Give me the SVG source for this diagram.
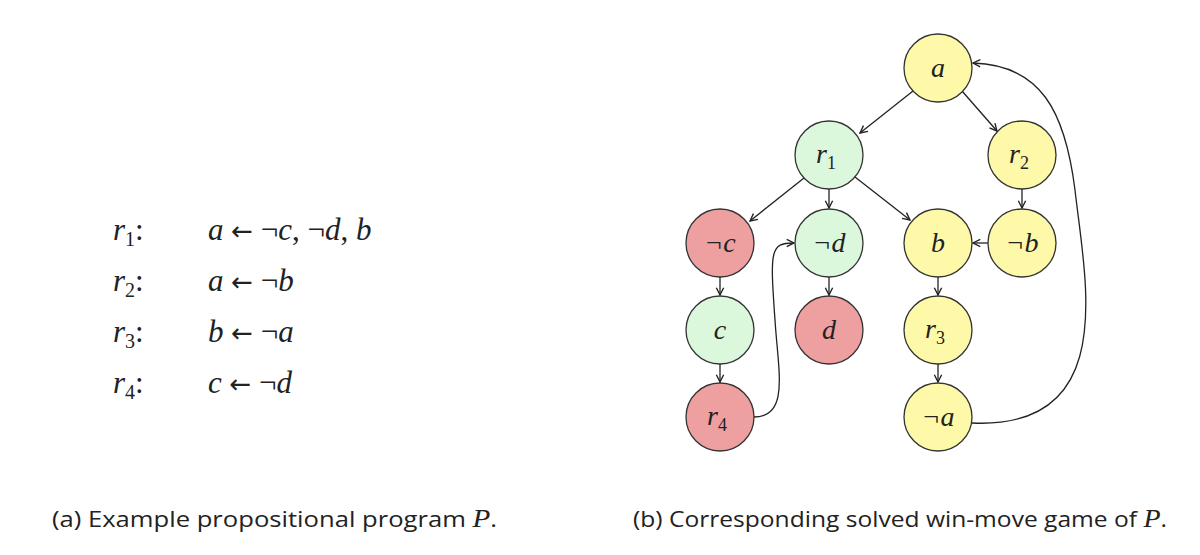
<svg xmlns="http://www.w3.org/2000/svg" width="1200" height="555" viewBox="0 0 1200 555">
<defs>
<marker id="ar" viewBox="0 0 10 10" refX="9" refY="5" markerWidth="7" markerHeight="7" orient="auto"><path d="M1,1 L9,5 L1,9" fill="none" stroke="#222" stroke-width="1.5"/></marker>
<style>
.n{stroke:#333;stroke-width:1.3}
.y{fill:#fdf9a8}.g{fill:#dcf8dc}.r{fill:#ee9f9f}
.t{font-family:"Liberation Serif",serif;font-style:italic;font-size:28px;text-anchor:middle;fill:#222}
.s{font-size:18px;font-style:normal}
.e{stroke:#222;stroke-width:1.3;fill:none;marker-end:url(#ar)}
.m{font-family:"Liberation Serif",serif;font-size:31px;fill:#222}
.ar{font-family:"DejaVu Sans",sans-serif;font-size:26px}
.cap{font-family:"Open Sans","Liberation Sans",sans-serif;font-size:22px;fill:#222}
</style>
</defs>
<g id="program">
<text class="m" x="113" y="240"><tspan font-style="italic">r</tspan><tspan font-size="20" dy="6">1</tspan><tspan dy="-6">:</tspan></text>
<text class="m" x="208" y="240"><tspan font-style="italic">a</tspan> <tspan class="ar">←</tspan> ¬<tspan font-style="italic">c</tspan>, ¬<tspan font-style="italic">d</tspan>, <tspan font-style="italic">b</tspan></text>
<text class="m" x="113" y="291"><tspan font-style="italic">r</tspan><tspan font-size="20" dy="6">2</tspan><tspan dy="-6">:</tspan></text>
<text class="m" x="208" y="291"><tspan font-style="italic">a</tspan> <tspan class="ar">←</tspan> ¬<tspan font-style="italic">b</tspan></text>
<text class="m" x="113" y="342"><tspan font-style="italic">r</tspan><tspan font-size="20" dy="6">3</tspan><tspan dy="-6">:</tspan></text>
<text class="m" x="208" y="342"><tspan font-style="italic">b</tspan> <tspan class="ar">←</tspan> ¬<tspan font-style="italic">a</tspan></text>
<text class="m" x="113" y="393"><tspan font-style="italic">r</tspan><tspan font-size="20" dy="6">4</tspan><tspan dy="-6">:</tspan></text>
<text class="m" x="208" y="393"><tspan font-style="italic">c</tspan> <tspan class="ar">←</tspan> ¬<tspan font-style="italic">d</tspan></text>
</g>
<g id="connectors">
<line class="e" x1="913" y1="91" x2="860" y2="133"/>
<line class="e" x1="962" y1="91" x2="997" y2="131"/>
<line class="e" x1="804" y1="178" x2="750" y2="221"/>
<line class="e" x1="829" y1="189" x2="829" y2="208"/>
<line class="e" x1="855" y1="177" x2="910" y2="220"/>
<line class="e" x1="1022" y1="189" x2="1022" y2="208"/>
<line class="e" x1="988" y1="243" x2="973" y2="243"/>
<line class="e" x1="720" y1="277" x2="720" y2="295"/>
<line class="e" x1="829" y1="277" x2="829" y2="295"/>
<line class="e" x1="938" y1="277" x2="938" y2="295"/>
<line class="e" x1="720" y1="364" x2="720" y2="382"/>
<line class="e" x1="938" y1="364" x2="938" y2="382"/>
<path class="e" d="M754,417 C790,417 778,370 775,320 C770,250 770,243 794,243"/>
<path class="e" d="M972,423 C1120,430 1085,280 1075,190 C1065,110 1040,65 973,63"/>
</g>
<g id="a"><circle class="n y" cx="938" cy="68" r="34"/><text class="t" x="938" y="77">a</text></g>
<g id="r1"><circle class="n g" cx="829" cy="155" r="34"/><text class="t" x="826" y="163">r<tspan class="s" dy="6">1</tspan></text></g>
<g id="r2"><circle class="n y" cx="1022" cy="155" r="34"/><text class="t" x="1019" y="163">r<tspan class="s" dy="6">2</tspan></text></g>
<g id="nc"><circle class="n r" cx="720" cy="243" r="34"/><text class="t" x="720" y="252">¬c</text></g>
<g id="nd"><circle class="n g" cx="829" cy="243" r="34"/><text class="t" x="829" y="252">¬d</text></g>
<g id="b"><circle class="n y" cx="938" cy="243" r="34"/><text class="t" x="938" y="252">b</text></g>
<g id="nb"><circle class="n y" cx="1022" cy="243" r="34"/><text class="t" x="1022" y="252">¬b</text></g>
<g id="c"><circle class="n g" cx="720" cy="330" r="34"/><text class="t" x="720" y="339">c</text></g>
<g id="d"><circle class="n r" cx="829" cy="330" r="34"/><text class="t" x="829" y="339">d</text></g>
<g id="r3"><circle class="n y" cx="938" cy="330" r="34"/><text class="t" x="935" y="338">r<tspan class="s" dy="6">3</tspan></text></g>
<g id="r4"><circle class="n r" cx="720" cy="417" r="34"/><text class="t" x="717" y="425">r<tspan class="s" dy="6">4</tspan></text></g>
<g id="na"><circle class="n y" cx="938" cy="417" r="34"/><text class="t" x="938" y="426">¬a</text></g>
<text class="cap" x="52" y="527" textLength="445" lengthAdjust="spacingAndGlyphs">(a) Example propositional program <tspan font-family="Liberation Serif,serif" font-style="italic" font-size="25">P</tspan>.</text>
<text class="cap" x="633" y="527" textLength="534" lengthAdjust="spacingAndGlyphs">(b) Corresponding solved win-move game of <tspan font-family="Liberation Serif,serif" font-style="italic" font-size="25">P</tspan>.</text>
</svg>
